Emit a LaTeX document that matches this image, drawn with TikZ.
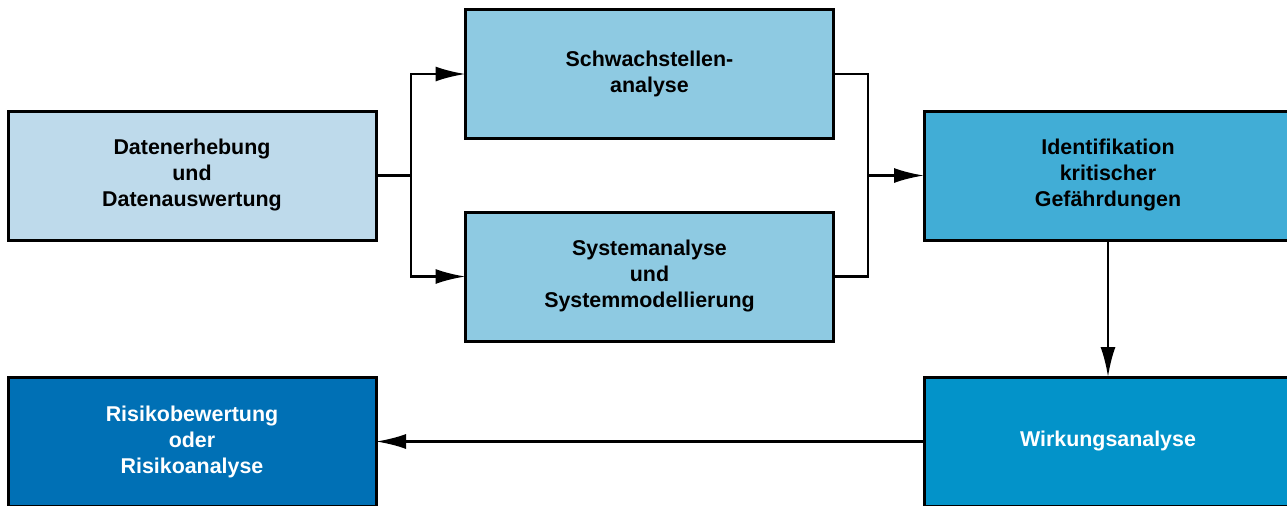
\documentclass[tikz,border=0pt]{standalone}
\usepackage{fontspec}
\setmainfont{Liberation Sans}
\usetikzlibrary{arrows.meta}

\definecolor{datenfill}{HTML}{BEDAEB}
\definecolor{analysefill}{HTML}{8ECAE2}
\definecolor{identfill}{HTML}{41ADD6}
\definecolor{wirkfill}{HTML}{0393C9}
\definecolor{risikofill}{HTML}{0070B5}

\tikzset{
    box/.style={draw, line width=1.5pt, minimum width=184pt, minimum height=64.5pt,
        inner sep=0pt, outer sep=0pt, align=center, font=\bfseries\fontsize{10.7}{13}\selectfont},
    conn/.style={line width=1.3pt},
    arr/.style={conn, -{Latex[length=15pt, width=7.5pt]}},
}

\begin{document}
\begin{tikzpicture}[x=0.5pt, y=-0.5pt]
    \useasboundingbox (0,0) rectangle (1287,505);
    %boxes
    \node[box, fill=datenfill] (daten) at (192,175.5) {Datenerhebung\\und\\Datenauswertung};
    \node[box, fill=analysefill] (schwach) at (649.5,74) {Schwachstellen-\\analyse};
    \node[box, fill=analysefill] (system) at (649.5,276.5) {Systemanalyse\\und\\Systemmodellierung};
    \node[box, fill=identfill] (ident) at (1108,175.5) {Identifikation\\kritischer\\Gefährdungen};
    \node[box, fill=wirkfill, text=white] (wirkung) at (1108,441.5) {Wirkungsanalyse};
    \node[box, fill=risikofill, text=white] (risiko) at (192,441.5) {Risikobewertung\\oder\\Risikoanalyse};
    %arrows
    \coordinate (split) at (411,175.5);
    \coordinate (merge) at (868,175.5);
    \draw[conn] (daten.east) -- (split);
    \draw[arr] (split) |- (schwach.west);
    \draw[arr] (split) |- (system.west);
    \draw[conn] (schwach.east) -| (merge);
    \draw[conn] (system.east) -| (merge);
    \draw[arr] (merge) -- (ident.west);
    \draw[arr] (ident.south) -- (wirkung.north);
    \draw[arr] (wirkung.west) -- (risiko.east);
\end{tikzpicture}
\end{document}
